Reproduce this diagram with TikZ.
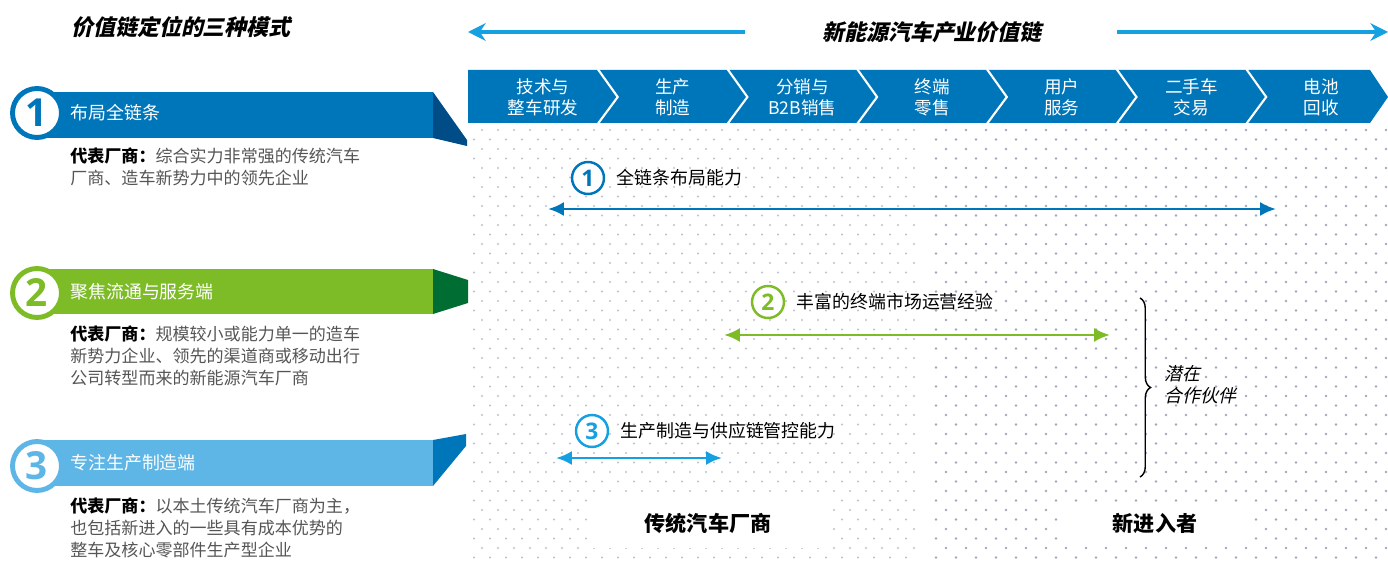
\documentclass[tikz,border=0pt]{standalone}
\usepackage{fontspec}
\setmainfont{Noto Sans CJK SC}[AutoFakeSlant=0.2]
\newfontfamily\slantfont{Noto Sans CJK SC}[FakeSlant=0.22]
\newfontfamily\numfont{Open Sans}
\usepackage{tikz}
\usetikzlibrary{arrows.meta, positioning, decorations.pathreplacing}

\definecolor{chainblue}{RGB}{0,118,186}
\definecolor{deepblue}{RGB}{0,76,135}
\definecolor{leafgreen}{RGB}{125,188,39}
\definecolor{deepgreen}{RGB}{0,110,50}
\definecolor{skyblue}{RGB}{94,182,230}
\definecolor{arrowsky}{RGB}{20,160,225}
\definecolor{dotgrey}{RGB}{160,168,188}
\definecolor{textgrey}{RGB}{85,85,85}

\begin{document}
\begin{tikzpicture}[x=0.02cm, y=-0.02cm,
  bigring/.style={circle, draw, fill=white, line width=2.8pt, minimum size=0.98cm, inner sep=0pt,
    font=\numfont\bfseries\fontsize{22}{22}\selectfont},
  smallring/.style={circle, draw, fill=white, line width=1.4pt, minimum size=0.64cm, inner sep=0pt,
    font=\numfont\bfseries\fontsize{13}{13}\selectfont},
  bandtext/.style={anchor=west, inner sep=0pt, text=white, font=\fontsize{10.2}{12}\selectfont},
  desc/.style={anchor=north west, inner sep=0pt, align=left, text=textgrey,
    font=\fontsize{9.7}{12.6}\selectfont},
  chevtext/.style={align=center, text=white, font=\fontsize{10}{12}\selectfont},
  captext/.style={inner sep=0pt, right=0.22cm of #1, font=\fontsize{10.2}{12}\selectfont},
  span/.style={{Latex[length=9pt,width=8pt]}-{Latex[length=9pt,width=8pt]}, line width=1.7pt},
  headline/.style={font=\slantfont\bfseries\fontsize{12.5}{14}\selectfont}]

  \useasboundingbox (0,0) rectangle (1388,570);

  % Dot background
  \foreach \y [count=\r] in {130,139.5,...,566} {
    \pgfmathsetmacro\shift{mod(\r,2)*8}
    \foreach \x in {474,490,...,920}
      \fill[dotgrey!70] (\x+\shift,\y) circle[radius=0.6pt];
    \pgfmathsetmacro\shiftb{mod(\r,2)*10}
    \foreach \x in {936,956,...,1376}
      \fill[dotgrey] (\x+\shiftb,\y) circle[radius=0.75pt];
  }

  % Titles and top arrows
  \node[headline] (modetitle) at (181,27) {价值链定位的三种模式};
  \node[headline] (chaintitle) at (932,32) {新能源汽车产业价值链};
  \coordinate (topLa) at (745,32);
  \coordinate (topLb) at (468,32);
  \coordinate (topRa) at (1117,32);
  \coordinate (topRb) at (1388,32);
  \draw[-{Stealth[length=10pt,width=10pt]}, arrowsky, line width=1.8pt] (topLa) -- (topLb);
  \draw[-{Stealth[length=10pt,width=10pt]}, arrowsky, line width=1.8pt] (topRa) -- (topRb);

  % Value chain bar
  \fill[chainblue] (468,70) -- (1370,70) -- (1388,97) -- (1370,123) -- (468,123) -- cycle;
  \foreach \k in {1,...,6}
    \draw[white, line width=1.2pt] ({468+129.7*\k},69) -- ({488+129.7*\k},97) -- ({468+129.7*\k},124);
  \foreach \lbl [count=\i from 0] in {{技术与\\整车研发}, {生产\\制造}, {分销与\\B2B销售},
      {终端\\零售}, {用户\\服务}, {二手车\\交易}, {电池\\回收}}
    \node[chevtext] (stage\i) at ({543+129.7*\i},97) {\lbl};

  % Mode 1
  \fill[chainblue] (40,92) rectangle (433,138);
  \fill[deepblue] (433,92) -- (467,140) -- (467,146) -- (433,138) -- cycle;
  \node[bigring, draw=chainblue, text=chainblue] (mode1) at (37,113) {1};
  \node[bandtext] (mode1t) at (70,113) {布局全链条};
  \node[desc] (mode1d) at (70,147) {\textbf{\color{black}代表厂商：}综合实力非常强的传统汽车\\
    厂商、造车新势力中的领先企业};

  % Mode 2
  \fill[leafgreen] (40,269) rectangle (433,314);
  \fill[deepgreen] (433,269) -- (468,280) -- (468,303) -- (433,314) -- cycle;
  \node[bigring, draw=leafgreen, text=leafgreen] (mode2) at (37,293) {2};
  \node[bandtext] (mode2t) at (70,292) {聚焦流通与服务端};
  \node[desc] (mode2d) at (70,325) {\textbf{\color{black}代表厂商：}规模较小或能力单一的造车\\
    新势力企业、领先的渠道商或移动出行\\公司转型而来的新能源汽车厂商};

  % Mode 3
  \fill[skyblue] (40,440) rectangle (433,486);
  \fill[chainblue] (433,440) -- (466,434) -- (466,446) -- (433,486) -- cycle;
  \node[bigring, draw=skyblue, text=skyblue] (mode3) at (37,466) {3};
  \node[bandtext] (mode3t) at (70,463) {专注生产制造端};
  \node[desc] (mode3d) at (70,497) {\textbf{\color{black}代表厂商：}以本土传统汽车厂商为主，\\
    也包括新进入的一些具有成本优势的\\整车及核心零部件生产型企业};

  % Capabilities
  \node[smallring, draw=chainblue, text=chainblue] (cap1) at (588,178) {1};
  \node[captext=cap1] (cap1t) {全链条布局能力};
  \coordinate (span1w) at (548,209);
  \coordinate (span1e) at (1276,209);
  \draw[span, chainblue] (span1w) -- (span1e);

  \node[smallring, draw=leafgreen, text=leafgreen] (cap2) at (768,302) {2};
  \node[captext=cap2] (cap2t) {丰富的终端市场运营经验};
  \coordinate (span2w) at (724,335);
  \coordinate (span2e) at (1110,335);
  \draw[span, leafgreen] (span2w) -- (span2e);

  \node[smallring, draw=arrowsky, text=arrowsky] (cap3) at (592,431) {3};
  \node[captext=cap3] (cap3t) {生产制造与供应链管控能力};
  \coordinate (span3w) at (556,458);
  \coordinate (span3e) at (722,458);
  \draw[span, arrowsky] (span3w) -- (span3e);

  % Partners
  \coordinate (braceT) at (1140,298);
  \coordinate (braceB) at (1140,477);
  \draw[decorate, decoration={brace, amplitude=6pt}, line width=0.8pt] (braceT) -- (braceB);
  \node[anchor=west, align=left, inner sep=0pt, font=\slantfont\fontsize{10.2}{12.5}\selectfont]
    (partner) at (1164,385) {潜在\\合作伙伴};

  % Player groups
  \node[fill=white, minimum width=4.86cm, minimum height=1cm, font=\bfseries\fontsize{12}{14}\selectfont]
    (legacy) at (708,523) {传统汽车厂商};
  \node[fill=white, minimum width=3.9cm, minimum height=0.7cm, font=\bfseries\fontsize{12}{14}\selectfont]
    (newcomer) at (1155,523) {新进入者};
\end{tikzpicture}
\end{document}
